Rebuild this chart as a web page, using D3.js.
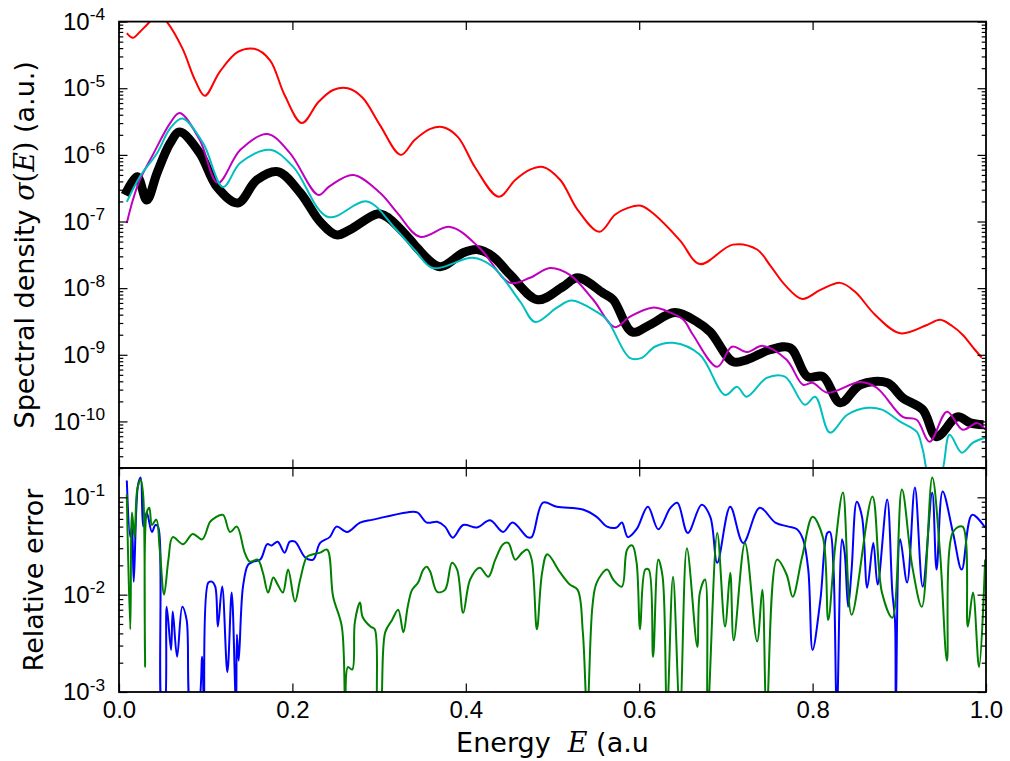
<!DOCTYPE html>
<html>
<head>
<meta charset="utf-8">
<script src="https://cdn.jsdelivr.net/npm/d3@7"></script>
<style>
  body { margin: 0; background: #fff; }
  svg { display: block; font-family: "DejaVu Sans", sans-serif; }
</style>
</head>
<body>
<svg id="chart" width="1010" height="761"></svg>
<script>
// tick values
const energyTicks = [0, 0.2, 0.4, 0.6, 0.8, 1.0];
const densityDecades = [1e-10, 1e-9, 1e-8, 1e-7, 1e-6, 1e-5, 1e-4];
const errorDecades = [1e-3, 1e-2, 1e-1];

// top panel: [energy, spectral density]
const exactSpectrum = [[0.007,2.5e-7],[0.021,4.7e-7],[0.032,2.1e-7],[0.044,5.4e-7],[0.059,1.5e-6],[0.070,2.2e-6],[0.093,1.07e-6],[0.113,3.3e-7],[0.137,1.9e-7],[0.159,4.2e-7],[0.183,5.6e-7],[0.209,2.7e-7],[0.232,9.9e-8],[0.251,6.3e-8],[0.266,7.5e-8],[0.298,1.3e-7],[0.309,1.17e-7],[0.336,5.3e-8],[0.344,4.0e-8],[0.370,2.1e-8],[0.397,3.4e-8],[0.413,3.8e-8],[0.431,3.0e-8],[0.451,1.6e-8],[0.483,6.7e-9],[0.512,1.05e-8],[0.529,1.43e-8],[0.558,8.5e-9],[0.570,6.7e-9],[0.592,2.2e-9],[0.612,2.8e-9],[0.641,4.3e-9],[0.667,3.1e-9],[0.682,2.2e-9],[0.708,7.9e-10],[0.724,8.4e-10],[0.751,1.19e-9],[0.774,1.27e-9],[0.794,4.7e-10],[0.812,4.7e-10],[0.832,1.9e-10],[0.855,3.55e-10],[0.886,3.8e-10],[0.904,2.26e-10],[0.927,1.5e-10],[0.943,5.9e-11],[0.967,1.17e-10],[0.982,9.5e-11],[0.997,8.9e-11]];

const redSpectrum = [[0.009,6.7e-5],[0.016,5.7e-5],[0.024,7.0e-5],[0.032,8.9e-5],[0.039,1.1e-4],[0.047,1.25e-4],[0.055,1.0e-4],[0.073,4.0e-5],[0.088,1.3e-5],[0.099,7.7e-6],[0.116,1.75e-5],[0.137,3.5e-5],[0.156,3.9e-5],[0.174,2.65e-5],[0.191,7.9e-6],[0.211,3.0e-6],[0.230,6.2e-6],[0.247,9.4e-6],[0.264,1.0e-5],[0.281,7.2e-6],[0.301,2.8e-6],[0.325,1.0e-6],[0.341,1.67e-6],[0.359,2.45e-6],[0.374,2.6e-6],[0.391,1.85e-6],[0.411,6.4e-7],[0.438,2.35e-7],[0.457,4.2e-7],[0.474,6.0e-7],[0.489,6.6e-7],[0.509,4.2e-7],[0.529,1.5e-7],[0.554,7.0e-8],[0.572,1.26e-7],[0.587,1.6e-7],[0.602,1.72e-7],[0.618,1.26e-7],[0.647,5.2e-8],[0.670,2.3e-8],[0.708,4.5e-8],[0.736,3.8e-8],[0.751,2.2e-8],[0.768,1.12e-8],[0.788,6.9e-9],[0.809,9.4e-9],[0.832,1.2e-8],[0.849,8.8e-9],[0.872,4.0e-9],[0.901,2.1e-9],[0.932,2.8e-9],[0.947,3.35e-9],[0.961,2.7e-9],[0.973,2.0e-9],[0.987,1.2e-9],[0.995,9.1e-10]];

const magentaSpectrum = [[0.009,9.5e-8],[0.016,2.1e-7],[0.024,4.2e-7],[0.039,1.0e-6],[0.059,3.0e-6],[0.070,4.25e-6],[0.093,1.68e-6],[0.114,3.8e-7],[0.140,1.19e-6],[0.171,2.06e-6],[0.197,1.07e-6],[0.230,2.5e-7],[0.243,3.4e-7],[0.270,5.0e-7],[0.301,2.7e-7],[0.321,1.35e-7],[0.347,5.9e-8],[0.382,8.3e-8],[0.416,4.0e-8],[0.451,1.2e-8],[0.474,1.43e-8],[0.497,2.0e-8],[0.520,1.58e-8],[0.547,6.7e-9],[0.572,2.6e-9],[0.589,3.7e-9],[0.615,5.1e-9],[0.636,4.3e-9],[0.651,3.35e-9],[0.662,2.0e-9],[0.690,6.6e-10],[0.707,1.32e-9],[0.724,1.1e-9],[0.743,1.36e-9],[0.770,8.4e-10],[0.789,3.55e-10],[0.800,3.8e-10],[0.817,2.7e-10],[0.855,3.9e-10],[0.874,3.2e-10],[0.904,1.17e-10],[0.920,1.06e-10],[0.935,4.95e-11],[0.955,1.4e-10],[0.973,7.5e-11],[0.990,9.5e-11],[0.999,7.5e-11]];

const cyanSpectrum = [[0.009,1.97e-7],[0.024,4.7e-7],[0.044,1.07e-6],[0.059,2.5e-6],[0.073,3.5e-6],[0.097,1.5e-6],[0.120,3.3e-7],[0.140,7.6e-7],[0.174,1.19e-6],[0.201,6.6e-7],[0.241,1.17e-7],[0.286,2.0e-7],[0.318,8.0e-8],[0.341,3.75e-8],[0.362,2.0e-8],[0.408,2.85e-8],[0.431,2.1e-8],[0.463,6.2e-9],[0.480,3.1e-9],[0.505,5.1e-9],[0.522,6.5e-9],[0.551,4.4e-9],[0.563,3.35e-9],[0.589,9.0e-10],[0.603,9.0e-10],[0.618,1.32e-9],[0.639,1.51e-9],[0.670,1.0e-9],[0.699,2.5e-10],[0.713,3.3e-10],[0.724,2.35e-10],[0.747,4.5e-10],[0.768,4.7e-10],[0.791,1.78e-10],[0.803,2.35e-10],[0.820,6.8e-11],[0.840,1.26e-10],[0.864,1.6e-10],[0.880,1.5e-10],[0.901,9.9e-11],[0.920,7.0e-11],[0.927,3.8e-11],[0.935,1.5e-11],[0.947,1.5e-11],[0.958,6.3e-11],[0.972,3.4e-11],[0.985,4.8e-11],[0.999,5.7e-11]];

// bottom panel: [energy, relative error]
const blueError = [[0.009,0.149],[0.013,0.039],[0.015,0.05],[0.017,0.0136],[0.022,0.135],[0.025,0.16],[0.028,0.05],[0.032,0.07],[0.038,0.044],[0.042,0.052],[0.045,0.05],[0.050,0.0006],[0.052,0.0006],[0.055,0.0075],[0.060,0.0027],[0.062,0.0067],[0.067,0.0023],[0.073,0.0075],[0.078,0.0055],[0.084,0.0006],[0.090,0.0006],[0.096,0.0023],[0.098,0.0006],[0.103,0.0133],[0.107,0.0136],[0.111,0.0121],[0.114,0.0047],[0.119,0.0121],[0.125,0.0016],[0.130,0.0105],[0.135,0.0006],[0.136,0.0039],[0.138,0.0021],[0.143,0.0121],[0.149,0.0203],[0.155,0.0218],[0.163,0.0229],[0.171,0.033],[0.176,0.032],[0.183,0.035],[0.191,0.027],[0.197,0.035],[0.203,0.035],[0.215,0.024],[0.224,0.0229],[0.232,0.034],[0.243,0.039],[0.251,0.05],[0.263,0.044],[0.278,0.055],[0.293,0.059],[0.332,0.07],[0.344,0.07],[0.355,0.055],[0.367,0.056],[0.376,0.05],[0.385,0.0385],[0.397,0.052],[0.413,0.049],[0.428,0.058],[0.443,0.044],[0.454,0.055],[0.471,0.039],[0.476,0.039],[0.489,0.088],[0.505,0.08],[0.535,0.075],[0.551,0.063],[0.563,0.05],[0.574,0.049],[0.580,0.055],[0.587,0.039],[0.597,0.047],[0.610,0.08],[0.622,0.047],[0.636,0.078],[0.644,0.088],[0.656,0.043],[0.672,0.084],[0.682,0.063],[0.690,0.0213],[0.705,0.08],[0.720,0.034],[0.739,0.078],[0.757,0.055],[0.772,0.05],[0.782,0.047],[0.789,0.037],[0.795,0.0181],[0.800,0.0027],[0.809,0.0089],[0.817,0.043],[0.820,0.044],[0.824,0.0194],[0.828,0.0006],[0.834,0.037],[0.837,0.027],[0.841,0.0075],[0.845,0.0181],[0.851,0.09],[0.857,0.063],[0.863,0.0118],[0.870,0.034],[0.875,0.0127],[0.886,0.095],[0.892,0.0105],[0.895,0.0055],[0.896,0.0006],[0.901,0.037],[0.909,0.0133],[0.918,0.126],[0.927,0.0121],[0.938,0.112],[0.943,0.0181],[0.950,0.115],[0.962,0.043],[0.972,0.0181],[0.984,0.066],[0.999,0.049]];

const greenError = [[0.009,0.107],[0.013,0.0044],[0.015,0.07],[0.018,0.0385],[0.021,0.12],[0.025,0.152],[0.028,0.102],[0.030,0.0018],[0.032,0.07],[0.035,0.078],[0.038,0.052],[0.043,0.059],[0.047,0.029],[0.052,0.01],[0.057,0.0229],[0.062,0.039],[0.074,0.033],[0.085,0.042],[0.096,0.037],[0.105,0.056],[0.111,0.062],[0.120,0.066],[0.128,0.044],[0.136,0.05],[0.145,0.027],[0.151,0.0218],[0.160,0.0229],[0.166,0.0168],[0.172,0.0105],[0.178,0.015],[0.183,0.0127],[0.189,0.0105],[0.195,0.0181],[0.203,0.0085],[0.209,0.0143],[0.217,0.0246],[0.224,0.026],[0.232,0.027],[0.240,0.029],[0.247,0.0095],[0.257,0.0047],[0.261,0.0006],[0.264,0.0018],[0.269,0.0017],[0.272,0.0052],[0.278,0.0083],[0.281,0.0059],[0.290,0.0047],[0.295,0.0044],[0.299,0.0006],[0.301,0.0006],[0.307,0.0041],[0.315,0.0055],[0.322,0.007],[0.328,0.0041],[0.333,0.0075],[0.338,0.0112],[0.345,0.0133],[0.351,0.0181],[0.355,0.0194],[0.359,0.0172],[0.367,0.0107],[0.376,0.0112],[0.384,0.0213],[0.390,0.0181],[0.397,0.0065],[0.405,0.0143],[0.416,0.0189],[0.426,0.0153],[0.434,0.0229],[0.443,0.033],[0.449,0.034],[0.457,0.0229],[0.465,0.027],[0.471,0.029],[0.476,0.0229],[0.482,0.0044],[0.488,0.0168],[0.494,0.026],[0.509,0.0168],[0.520,0.0127],[0.529,0.0112],[0.535,0.0041],[0.540,0.0006],[0.546,0.0075],[0.551,0.0133],[0.563,0.0181],[0.570,0.0143],[0.580,0.0121],[0.586,0.029],[0.592,0.032],[0.597,0.0213],[0.601,0.0044],[0.607,0.0181],[0.611,0.0181],[0.616,0.0023],[0.622,0.0229],[0.627,0.0153],[0.632,0.0006],[0.639,0.0153],[0.647,0.0006],[0.655,0.03],[0.667,0.0029],[0.670,0.0105],[0.676,0.0143],[0.679,0.0006],[0.690,0.043],[0.699,0.0047],[0.705,0.0168],[0.709,0.0034],[0.722,0.034],[0.736,0.0033],[0.742,0.0112],[0.747,0.0006],[0.759,0.0229],[0.770,0.0161],[0.777,0.0095],[0.788,0.0246],[0.800,0.063],[0.812,0.0385],[0.818,0.0055],[0.826,0.031],[0.835,0.112],[0.845,0.0062],[0.869,0.102],[0.880,0.0105],[0.892,0.0058],[0.903,0.12],[0.915,0.0194],[0.926,0.0075],[0.938,0.16],[0.947,0.027],[0.955,0.0021],[0.962,0.044],[0.973,0.05],[0.979,0.0047],[0.985,0.0105],[0.992,0.0018],[0.999,0.0229]];


const svg = d3.select("#chart");

// panel geometry
const left = 119, right = 986;
const topY0 = 21.6, topY1 = 468, botY1 = 692;

const x = d3.scaleLinear().domain([0, 1]).range([left, right]);
const yTop = d3.scaleLog().domain([2e-11, 1e-4]).range([topY1, topY0]);
const yBot = d3.scaleLog().domain([1e-3, 0.2]).range([botY1, topY1]);

// clip paths for each panel
const defs = svg.append("defs");
defs.append("clipPath").attr("id", "clip-top")
    .append("rect").attr("x", left).attr("y", topY0).attr("width", right - left).attr("height", topY1 - topY0);
defs.append("clipPath").attr("id", "clip-bot")
    .append("rect").attr("x", left).attr("y", topY1).attr("width", right - left).attr("height", botY1 - topY1);

const smoothLine = d3.line()
    .x(d => x(d[0]))
    .y(d => yTop(d[1]))
    .curve(d3.curveCatmullRom.alpha(0.5));

const errLine = d3.line()
    .x(d => x(d[0]))
    .y(d => yBot(d[1]))
    .curve(d3.curveCatmullRom.alpha(0.5));

const topLines = svg.append("g").attr("clip-path", "url(#clip-top)");
topLines.append("path").datum(exactSpectrum)
    .attr("d", smoothLine).attr("fill", "none")
    .attr("stroke", "black").attr("stroke-width", 9).attr("stroke-linejoin", "round");

[[redSpectrum, "#ff0000"], [magentaSpectrum, "#bf00bf"], [cyanSpectrum, "#00bfbf"]].forEach(([data, color]) => {
    topLines.append("path").datum(data)
        .attr("d", smoothLine).attr("fill", "none")
        .attr("stroke", color).attr("stroke-width", 2);
});

const botLines = svg.append("g").attr("clip-path", "url(#clip-bot)");
[[blueError, "#0000ff"], [greenError, "#008000"]].forEach(([data, color]) => {
    botLines.append("path").datum(data)
        .attr("d", errLine).attr("fill", "none")
        .attr("stroke", color).attr("stroke-width", 2).attr("stroke-linejoin", "round");
});

// axes (ticks point inward on every side)
function styleAxis(g) {
    g.select(".domain").remove();
    g.selectAll(".tick line").attr("stroke", "black").attr("stroke-width", 1.2);
    g.selectAll(".tick text").attr("fill", "black").attr("font-size", 24);
}

function powerLabels(g) {
    g.selectAll(".tick text").each(function(d) {
        const t = d3.select(this);
        t.text(null);
        t.append("tspan").text("10");
        t.append("tspan").attr("dy", "-0.55em").attr("font-size", "0.72em")
            .text(Math.round(Math.log10(d)));
    });
}

function logAxes(scale, decades) {
    const minors = scale.ticks().filter(v => !decades.some(dv => Math.abs(dv - v) / dv < 1e-6));
    svg.append("g").attr("transform", `translate(${left},0)`)
        .call(d3.axisLeft(scale).tickValues(decades).tickSize(-8.5).tickPadding(14).tickFormat(""))
        .call(styleAxis).call(powerLabels);
    svg.append("g").attr("transform", `translate(${left},0)`)
        .call(d3.axisLeft(scale).tickValues(minors).tickSize(-4.3).tickFormat(""))
        .call(styleAxis);
    svg.append("g").attr("transform", `translate(${right},0)`)
        .call(d3.axisRight(scale).tickValues(decades).tickSize(-8.5).tickFormat(""))
        .call(styleAxis);
    svg.append("g").attr("transform", `translate(${right},0)`)
        .call(d3.axisRight(scale).tickValues(minors).tickSize(-4.3).tickFormat(""))
        .call(styleAxis);
}

logAxes(yTop, densityDecades);
logAxes(yBot, errorDecades);

// x ticks: top of upper panel, shared border, bottom
svg.append("g").attr("transform", `translate(0,${topY0})`)
    .call(d3.axisTop(x).tickValues(energyTicks).tickSize(-8.5).tickFormat(""))
    .call(styleAxis);
svg.append("g").attr("transform", `translate(0,${topY1})`)
    .call(d3.axisBottom(x).tickValues(energyTicks).tickSize(-8.5).tickFormat(""))
    .call(styleAxis);
svg.append("g").attr("transform", `translate(0,${topY1})`)
    .call(d3.axisTop(x).tickValues(energyTicks).tickSize(-8.5).tickFormat(""))
    .call(styleAxis);
svg.append("g").attr("transform", `translate(0,${botY1})`)
    .call(d3.axisBottom(x).tickValues(energyTicks).tickSize(-8.5).tickPadding(9).tickFormat(d3.format(".1f")))
    .call(styleAxis);

// panel frames
[[topY0, topY1], [topY1, botY1]].forEach(([y0, y1]) => {
    svg.append("rect")
        .attr("x", left).attr("y", y0).attr("width", right - left).attr("height", y1 - y0)
        .attr("fill", "none").attr("stroke", "black").attr("stroke-width", 1.8);
});

// axis titles
const yTitle = svg.append("text")
    .attr("transform", `translate(34,${(topY0 + topY1) / 2}) rotate(-90)`)
    .attr("text-anchor", "middle").attr("font-size", 27);
yTitle.append("tspan").text("Spectral density ");
yTitle.append("tspan").attr("font-family", "DejaVu Serif").attr("font-style", "italic").text("σ");
yTitle.append("tspan").attr("font-family", "DejaVu Serif").text("(");
yTitle.append("tspan").attr("font-family", "DejaVu Serif").attr("font-style", "italic").text("E");
yTitle.append("tspan").attr("font-family", "DejaVu Serif").text(")");
yTitle.append("tspan").text(" (a.u.)");

svg.append("text")
    .attr("transform", `translate(43,${(topY1 + botY1) / 2}) rotate(-90)`)
    .attr("text-anchor", "middle").attr("font-size", 27)
    .text("Relative error");

const xTitle = svg.append("text")
    .attr("x", (left + right) / 2).attr("y", 752)
    .attr("text-anchor", "middle").attr("font-size", 27)
    .style("white-space", "pre");
xTitle.append("tspan").text("Energy  ");
xTitle.append("tspan").attr("font-family", "DejaVu Serif").attr("font-style", "italic").text("E");
xTitle.append("tspan").text(" (a.u");
</script>
</body>
</html>
